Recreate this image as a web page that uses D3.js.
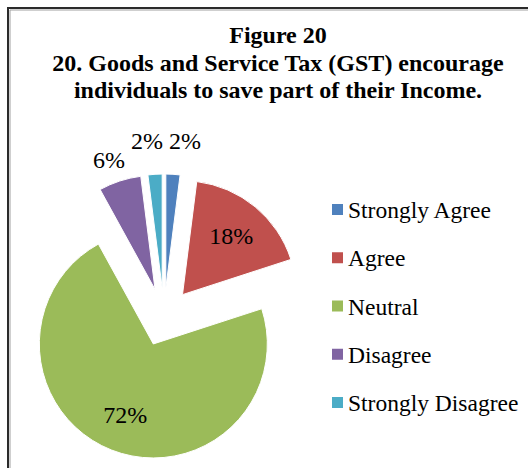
<!DOCTYPE html>
<html>
<head>
<meta charset="utf-8">
<script src="https://cdn.jsdelivr.net/npm/d3@7"></script>
<style>
  body { margin: 0; background: #fff; }
  svg { display: block; }
</style>
</head>
<body>
<div id="chart"></div>
<script>
// chart data
var categories = ["Strongly Agree", "Agree", "Neutral", "Disagree", "Strongly Disagree"];
var values = [2, 18, 72, 6, 2];
var colors = ["#4F81BD", "#C0504D", "#9BBB59", "#8064A2", "#4BACC6"];
var titleLines = ["Figure 20", "20. Goods and Service Tax (GST) encourage", "individuals to save part of their Income."];

var width = 528, height = 468;
var serifFace = "'Liberation Serif'";

var svg = d3.select("#chart").append("svg")
  .attr("width", width)
  .attr("height", height);

// frame (only top and left edges show)
svg.append("path")
  .attr("d", "M8," + height + "V8H" + width)
  .attr("fill", "none")
  .attr("stroke", "#2b2b2b")
  .attr("stroke-width", 2);
svg.append("path")
  .attr("d", "M10," + height + "V10H" + width)
  .attr("fill", "none")
  .attr("stroke", "#a0a0a0")
  .attr("stroke-width", 1);

// title
svg.append("text")
  .attr("text-anchor", "middle")
  .style("font-family", serifFace)
  .style("font-weight", "bold")
  .style("font-size", "24px")
  .selectAll("tspan")
  .data(titleLines)
  .enter().append("tspan")
  .attr("x", 278)
  .attr("y", function(d, i) { return 43 + i * 27.5; })
  .text(function(d) { return d; });

// pie
var cx = 164, cy = 317, radius = 114, explode = 29;
var total = d3.sum(values);

var pie = d3.pie().sort(null).value(function(d) { return d; });
var arcs = pie(values);
var arc = d3.arc().innerRadius(0).outerRadius(radius);

function mid(d) { return (d.startAngle + d.endAngle) / 2; }
function offset(d, dist) {
  var a = mid(d);
  return [Math.sin(a) * dist, -Math.cos(a) * dist];
}

var g = svg.append("g").attr("transform", "translate(" + cx + "," + cy + ")");

g.selectAll("path.slice")
  .data(arcs)
  .enter().append("path")
  .attr("class", "slice")
  .attr("d", arc)
  .attr("fill", function(d, i) { return colors[i]; })
  .attr("stroke", "#fff")
  .attr("stroke-width", 1)
  .attr("transform", function(d) {
    var o = offset(d, explode);
    return "translate(" + o[0] + "," + o[1] + ")";
  });

// percent labels: big slices inside, small ones just outside
var labels = arcs.map(function(d) {
  var share = d.value / total;
  var base = offset(d, explode);
  var dist = share >= 0.1 ? radius * 0.67 : radius * (share < 0.03 ? 1.3 : 1.2);
  var o = offset(d, dist);
  return { inside: share >= 0.1, x: base[0] + o[0], y: base[1] + o[1], text: Math.round(share * 100) + "%" };
});

var pct = g.selectAll("text.pct")
  .data(labels)
  .enter().append("text")
  .attr("class", "pct")
  .attr("dy", "0.35em")
  .attr("text-anchor", "middle")
  .style("font-family", serifFace)
  .style("font-size", "24px")
  .attr("fill", "#000")
  .text(function(l) { return l.text; });

// push overlapping outside labels apart sideways
pct.each(function(l) { l.w = this.getComputedTextLength(); });
var outside = labels.filter(function(l) { return !l.inside; })
  .sort(function(a, b) { return a.x - b.x; });
for (var it = 0; it < 30; it++) {
  for (var i = 0; i < outside.length; i++) {
    for (var j = i + 1; j < outside.length; j++) {
      var a = outside[i], b = outside[j];
      var need = (a.w + b.w) / 2 + 6;
      if (Math.abs(a.y - b.y) < 22 && b.x - a.x < need) {
        var push = (need - (b.x - a.x)) / 2;
        a.x -= push;
        b.x += push;
      }
    }
  }
}

pct.attr("x", function(l) { return l.x; })
  .attr("y", function(l) { return l.y; });

// legend
var legendY = d3.scalePoint().domain(categories).range([210, 403]);
var legend = svg.append("g").selectAll("g")
  .data(categories)
  .enter().append("g")
  .attr("transform", function(d) { return "translate(332," + legendY(d) + ")"; });

legend.append("rect")
  .attr("x", 0)
  .attr("y", -6)
  .attr("width", 11)
  .attr("height", 11)
  .attr("fill", function(d, i) { return colors[i]; });

legend.append("text")
  .attr("x", 16)
  .attr("dy", "0.35em")
  .style("font-family", serifFace)
  .style("font-size", "23.5px")
  .text(function(d) { return d; });
</script>
</body>
</html>
